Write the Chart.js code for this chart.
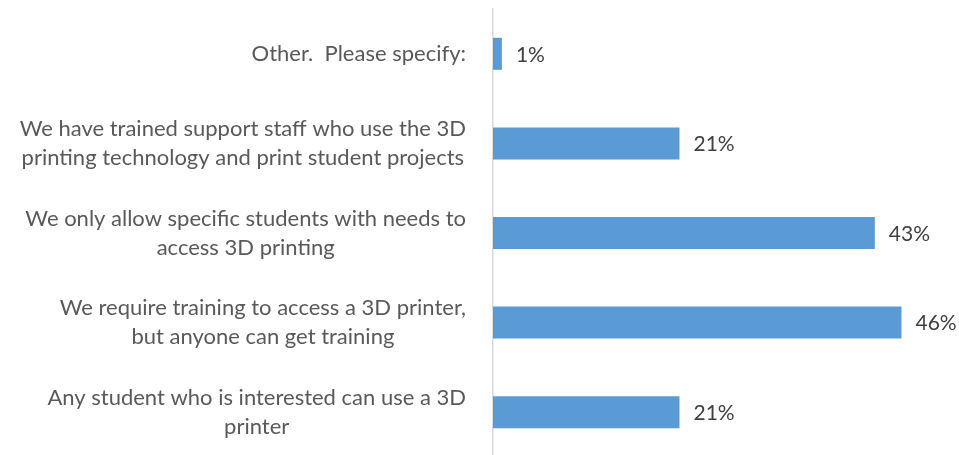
<!DOCTYPE html>
<html>
<head>
<meta charset="utf-8">
<script src="https://cdn.jsdelivr.net/npm/chart.js@4/dist/chart.umd.min.js"></script>
<style>
  html, body { margin: 0; padding: 0; background: #fff; overflow: hidden; }
  #wrap { position: relative; width: 959px; height: 458px; }
</style>
</head>
<body>
<div id="wrap"><canvas id="c"></canvas></div>
<script>
// Survey answers, top to bottom, each split into its printed lines
const categories = [
  ["Other.  Please specify:"],
  ["We have trained support staff who use the 3D", "printing technology and print student projects"],
  ["We only allow specific students with needs to", "access 3D printing"],
  ["We require training to access a 3D printer,", "but anyone can get training"],
  ["Any student who is interested can use a 3D", "printer"]
];
// Share of respondents (%)
const shares = [1, 21, 43, 46, 21];
const valueLabels = ["1%", "21%", "43%", "46%", "21%"];

const FONT = "Lato, 'Open Sans', sans-serif";
const LABEL_SIZE = 22;
const VALUE_SIZE = 21;

// Category labels: each block is centred on its own widest line, block right-aligned beside the axis
const categoryLabels = {
  id: 'categoryLabels',
  afterDraw(chart) {
    const ctx = chart.ctx;
    const yScale = chart.scales.y;
    const right = 466;
    const lineH = 29;
    ctx.save();
    ctx.font = LABEL_SIZE + 'px ' + FONT;
    ctx.fillStyle = '#595959';
    ctx.textAlign = 'center';
    ctx.textBaseline = 'middle';
    categories.forEach((lines, i) => {
      const cy = yScale.getPixelForValue(i);
      const w = Math.max(...lines.map(l => ctx.measureText(l).width));
      const cx = right - w / 2;
      const top = cy - (lines.length - 1) * lineH / 2;
      lines.forEach((l, k) => ctx.fillText(l, cx, top + k * lineH));
    });
    ctx.restore();
  }
};

// Value labels just past the end of each bar
const valueTags = {
  id: 'valueTags',
  afterDatasetsDraw(chart) {
    const ctx = chart.ctx;
    const meta = chart.getDatasetMeta(0);
    ctx.save();
    ctx.font = VALUE_SIZE + 'px ' + FONT;
    ctx.fillStyle = '#404040';
    ctx.textAlign = 'left';
    ctx.textBaseline = 'middle';
    meta.data.forEach((bar, i) => {
      ctx.fillText(valueLabels[i], bar.x + 14, bar.y + 1);
    });
    ctx.restore();
  }
};

new Chart(document.getElementById('c'), {
  type: 'bar',
  data: {
    labels: categories,
    datasets: [{
      data: shares,
      backgroundColor: '#5b9bd5',
      borderWidth: 0,
      barPercentage: 0.357,
      categoryPercentage: 1.0
    }]
  },
  options: {
    indexAxis: 'y',
    responsive: true,
    maintainAspectRatio: false,
    animation: false,
    layout: { padding: { left: 493, right: 22, top: 9, bottom: 1 } },
    plugins: { legend: { display: false }, tooltip: { enabled: false } },
    scales: {
      x: {
        min: 0, max: 50,
        display: false,
        grid: { display: false }
      },
      y: {
        grid: { display: false, drawTicks: false },
        ticks: { display: false },
        border: { display: true, color: '#d9d9d9', width: 1.5 }
      }
    }
  },
  plugins: [categoryLabels, valueTags]
});
</script>
</body>
</html>
